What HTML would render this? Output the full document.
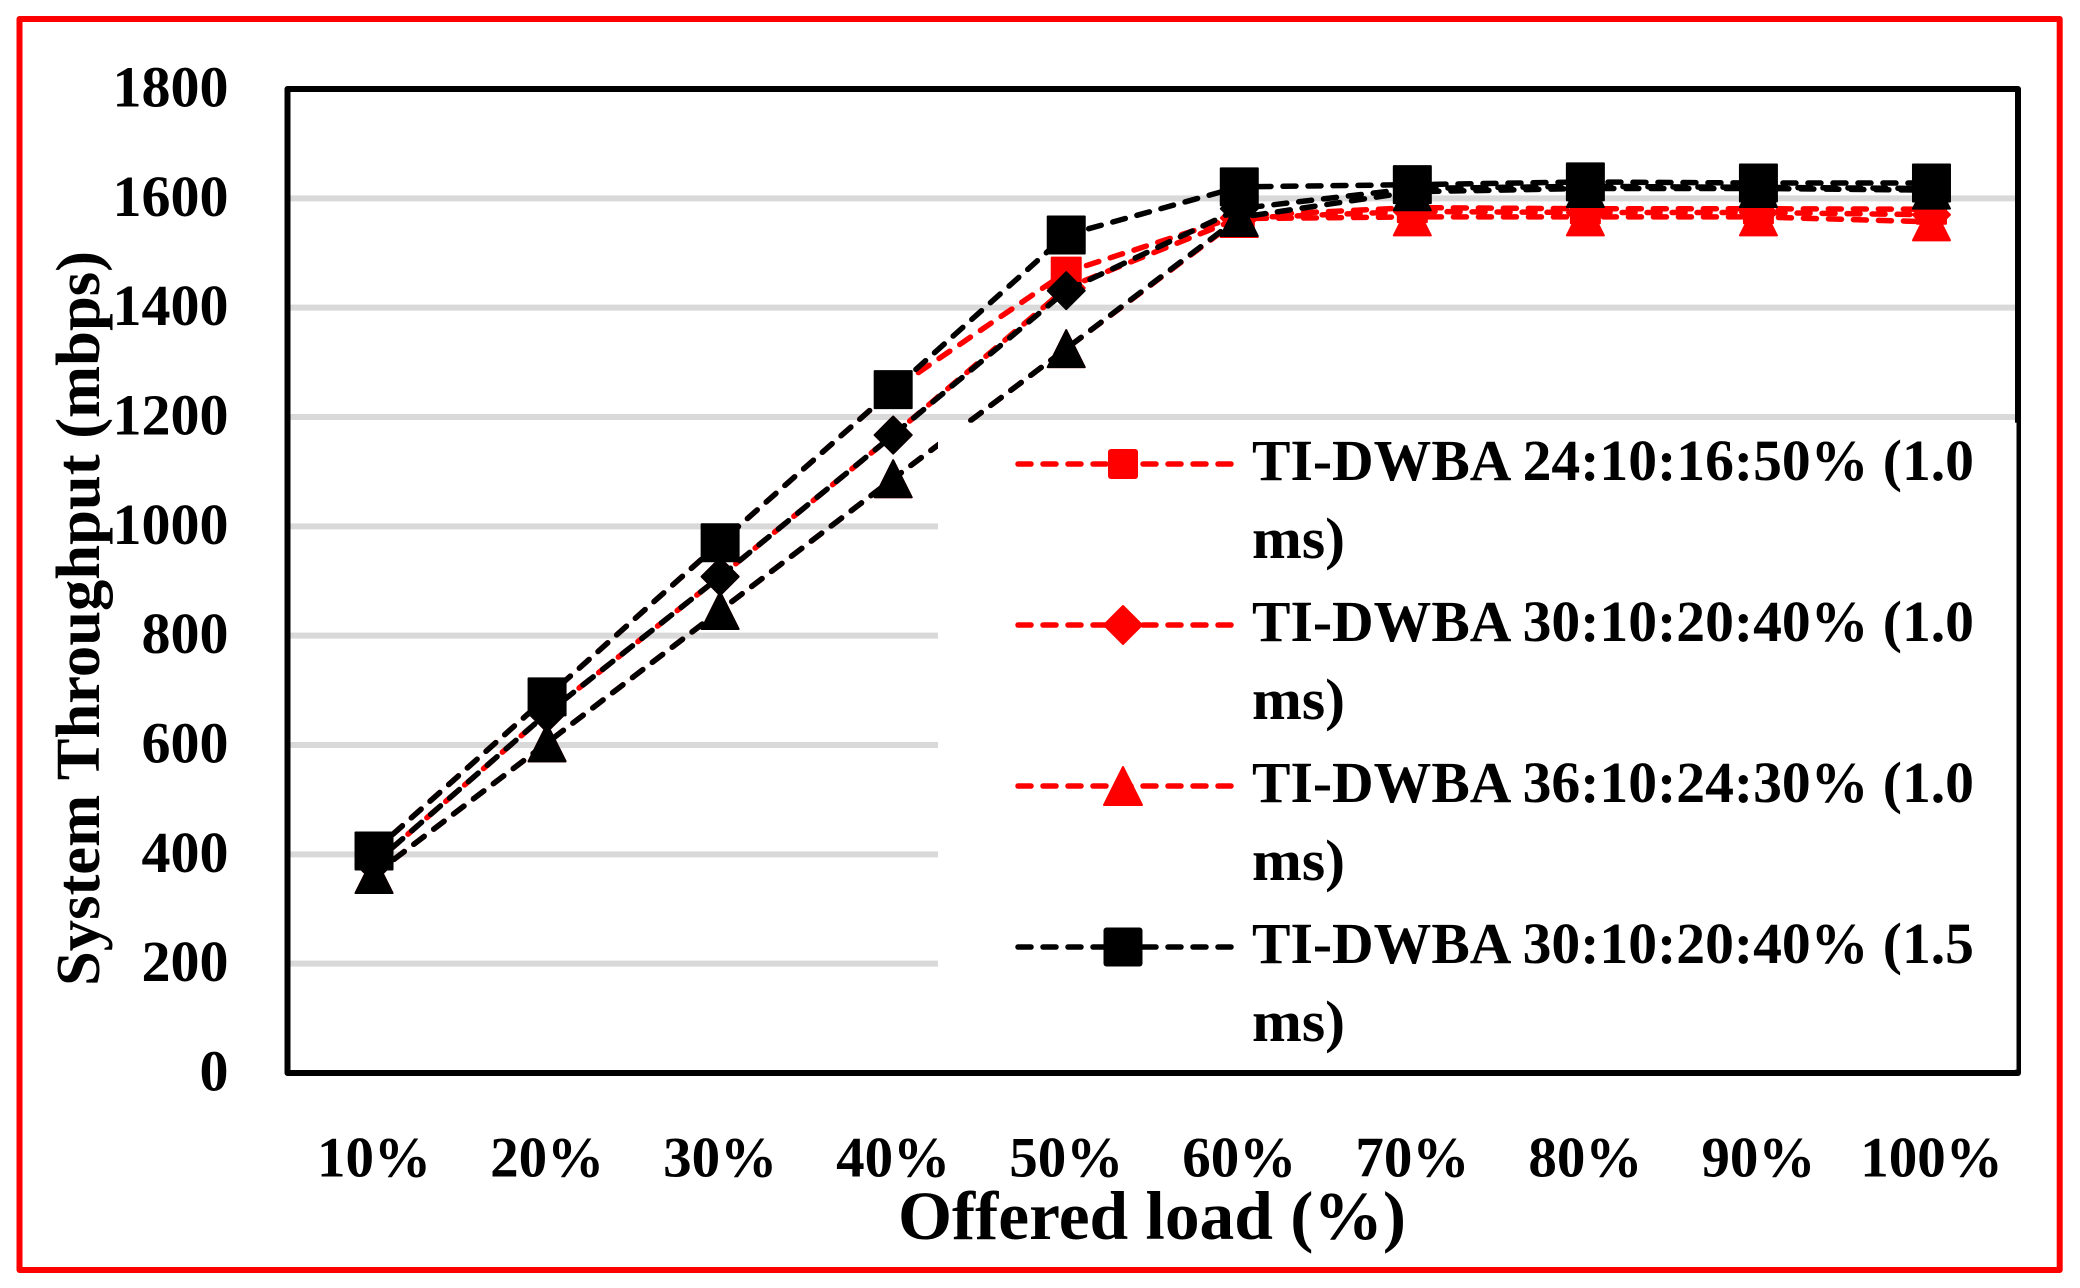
<!DOCTYPE html>
<html lang="en">
<head>
<meta charset="utf-8">
<title>System Throughput vs Offered Load</title>
<style>
html,body{margin:0;padding:0;background:#fff}
svg{display:block}
text{font-family:"Liberation Serif",serif;font-weight:700;fill:#000}
</style>
</head>
<body>
<svg id="chart" xmlns="http://www.w3.org/2000/svg" width="2080" height="1288" viewBox="0 0 2080 1288">
  <rect x="0" y="0" width="2080" height="1288" fill="#fff"/>
  <rect x="19.5" y="19" width="2040.2" height="1251" fill="none" stroke="#f00" stroke-width="6" stroke-linejoin="round"/>
  <g id="grid"></g>
  <g id="series"></g>
  <rect x="287.5" y="89" width="1730.5" height="984" fill="none" stroke="#000" stroke-width="6" stroke-linejoin="round"/>
  <g id="y-ticks"></g>
  <g id="x-ticks"></g>
  <text transform="translate(99,986) rotate(-90)" font-size="62" textLength="735" lengthAdjust="spacingAndGlyphs">System Throughput (mbps)</text>
  <text x="898" y="1239" font-size="69" textLength="508" lengthAdjust="spacingAndGlyphs">Offered load (%)</text>

  <g>
    <rect x="938" y="422.7" width="1078.5" height="647" fill="#fff"/>
    <g>
      <line x1="1018" y1="464" x2="1231" y2="464" stroke="#f00" stroke-width="5.5" stroke-linecap="round" stroke-dasharray="13 12"/>
      <rect x="1108" y="449" width="30" height="30" rx="3" fill="#f00"/>
      <text x="1252" y="480" font-size="58" textLength="722" lengthAdjust="spacingAndGlyphs">TI-DWBA 24:10:16:50% (1.0</text>
      <text x="1252" y="558" font-size="58" textLength="93" lengthAdjust="spacingAndGlyphs">ms)</text>
    </g>
    <g>
      <line x1="1018" y1="625" x2="1231" y2="625" stroke="#f00" stroke-width="5.5" stroke-linecap="round" stroke-dasharray="13 12"/>
      <polygon points="1123,606 1142,625 1123,644 1104,625" fill="#f00" stroke="#f00" stroke-width="2" stroke-linejoin="round"/>
      <text x="1252" y="641" font-size="58" textLength="722" lengthAdjust="spacingAndGlyphs">TI-DWBA 30:10:20:40% (1.0</text>
      <text x="1252" y="719" font-size="58" textLength="93" lengthAdjust="spacingAndGlyphs">ms)</text>
    </g>
    <g>
      <line x1="1018" y1="786" x2="1231" y2="786" stroke="#f00" stroke-width="5.5" stroke-linecap="round" stroke-dasharray="13 12"/>
      <polygon points="1123,767 1142,805 1104,805" fill="#f00" stroke="#f00" stroke-width="2" stroke-linejoin="round"/>
      <text x="1252" y="802" font-size="58" textLength="722" lengthAdjust="spacingAndGlyphs">TI-DWBA 36:10:24:30% (1.0</text>
      <text x="1252" y="880" font-size="58" textLength="93" lengthAdjust="spacingAndGlyphs">ms)</text>
    </g>
    <g>
      <line x1="1018" y1="947" x2="1231" y2="947" stroke="#000" stroke-width="5.5" stroke-linecap="round" stroke-dasharray="13 12"/>
      <rect x="1103.5" y="927.5" width="39" height="39" rx="3" fill="#000"/>
      <text x="1252" y="963" font-size="58" textLength="722" lengthAdjust="spacingAndGlyphs">TI-DWBA 30:10:20:40% (1.5</text>
      <text x="1252" y="1041" font-size="58" textLength="93" lengthAdjust="spacingAndGlyphs">ms)</text>
    </g>
  </g>
</svg>
<script>
const categories = ['10%','20%','30%','40%','50%','60%','70%','80%','90%','100%'];
const yTickLabels = [0,200,400,600,800,1000,1200,1400,1600,1800];
const redSquareValues = [406,688,970,1250,1465,1568,1583,1581,1581,1580];
const redDiamondValues = [383,658,908,1167,1436,1564,1576,1574,1574,1570];
const redTriangleValues = [363,604,846,1087,1325,1563,1566,1566,1566,1557];
const blackTriangleValues = [363,604,846,1087,1325,1565,1612,1618,1618,1615];
const blackDiamondValues = [383,658,908,1167,1431,1581,1618,1622,1620,1618];
const blackSquareValues = [406,688,970,1250,1533,1621,1625,1630,1628,1628];

const NS = 'http://www.w3.org/2000/svg';
const plotLeft = 287.5, plotRight = 2018, plotTop = 89, plotBottom = 1073, yMax = 1800;

function xScale(i) {
  return plotLeft + (i + 0.5) * (plotRight - plotLeft) / categories.length;
}
function yScale(v) {
  return plotBottom - v / yMax * (plotBottom - plotTop);
}
function make(tag, attrs, parent) {
  const el = document.createElementNS(NS, tag);
  for (const k in attrs) el.setAttribute(k, attrs[k]);
  parent.appendChild(el);
  return el;
}

const gridGroup = document.getElementById('grid');
const yTickGroup = document.getElementById('y-ticks');
yTickLabels.forEach(function (v) {
  if (v > 0 && v < yMax) {
    const g = make('line', {x1: plotLeft, x2: plotRight, y1: yScale(v), y2: yScale(v), stroke: '#d9d9d9', 'stroke-width': 6}, gridGroup);
    
    
  }
  const t = make('text', {x: 228.5, y: yScale(v) + 17.5, 'font-size': 58, 'text-anchor': 'end'}, yTickGroup);
  t.textContent = String(v);
  
  
});

const xTickGroup = document.getElementById('x-ticks');
categories.forEach(function (c, i) {
  const em = (c.length - 1) * 0.5 + 1;
  const w = em * 57;
  const t = make('text', {x: xScale(i) - w / 2, y: 1176.5, 'font-size': 57, textLength: w, lengthAdjust: 'spacingAndGlyphs'}, xTickGroup);
  t.textContent = c;
  
  
});

function drawMarker(shape, color, size, cx, cy, parent) {
  const s = size - 2, h = s / 2;
  const common = {fill: color, stroke: color, 'stroke-width': 2, 'stroke-linejoin': 'round'};
  let el;
  if (shape === 'square') {
    el = make('rect', Object.assign({x: cx - h, y: cy - h, width: s, height: s}, common), parent);
  } else if (shape === 'diamond') {
    el = make('polygon', Object.assign({points: [cx, cy - h, cx + h, cy, cx, cy + h, cx - h, cy].join(' ')}, common), parent);
  } else {
    el = make('polygon', Object.assign({points: [cx, cy - h, cx + h, cy + h, cx - h, cy + h].join(' ')}, common), parent);
  }
  return el;
}

const seriesGroup = document.getElementById('series');
function drawSeries(name, values, color, shape, size, dashOffset) {
  const g = make('g', {}, seriesGroup);
  
  
  const pts = values.map(function (v, i) { return xScale(i) + ',' + yScale(v); }).join(' ');
  const line = make('polyline', {points: pts, fill: 'none', stroke: color, 'stroke-width': 5.5, 'stroke-linecap': 'round', 'stroke-linejoin': 'round', 'stroke-dasharray': '13 12', 'stroke-dashoffset': dashOffset}, g);
  
  
  values.forEach(function (v, i) {
    const m = drawMarker(shape, color, size, xScale(i), yScale(v), g);
    
    
  });
}

drawSeries('red-square', redSquareValues, '#f00', 'square', 31, 0);
drawSeries('red-diamond', redDiamondValues, '#f00', 'diamond', 39, 5);
drawSeries('red-triangle', redTriangleValues, '#f00', 'triangle', 39, 0);
drawSeries('black-triangle', blackTriangleValues, '#000', 'triangle', 39, 0);
drawSeries('black-diamond', blackDiamondValues, '#000', 'diamond', 39, 0);
drawSeries('black-square', blackSquareValues, '#000', 'square', 39, 0);
</script>
</body>
</html>
